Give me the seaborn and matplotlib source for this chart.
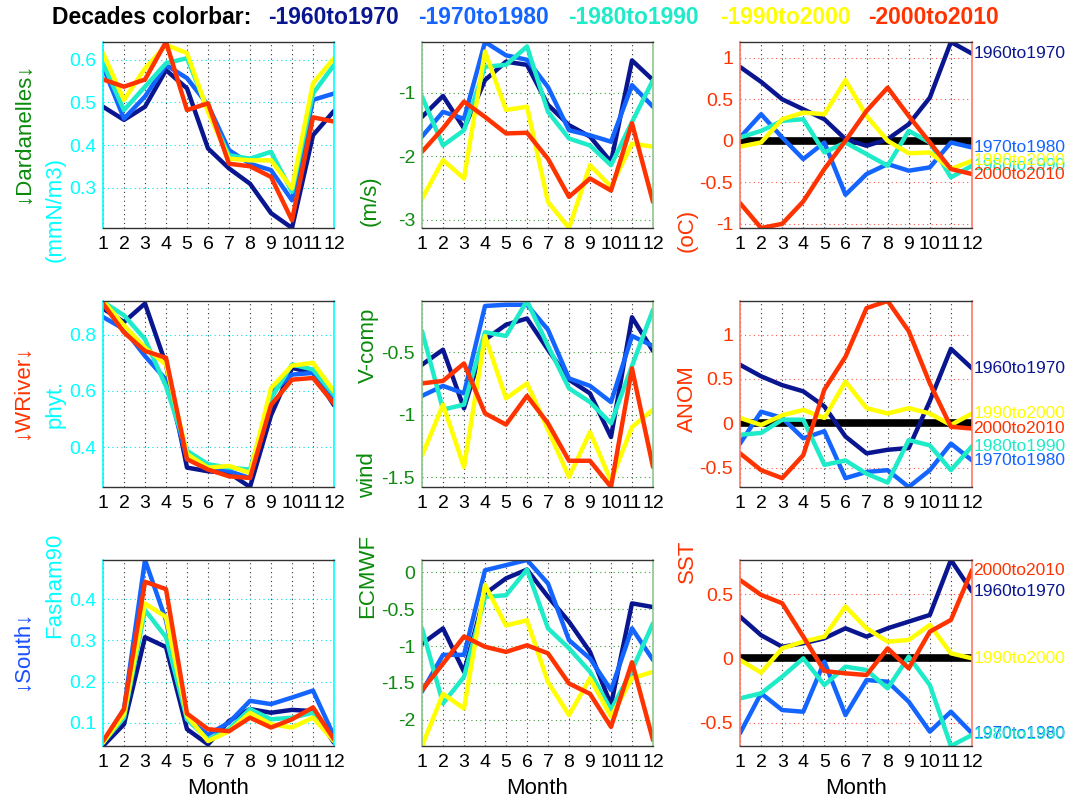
import numpy as np
import pandas as pd
import matplotlib
matplotlib.use("Agg")
import matplotlib.pyplot as plt
import seaborn as sns
from matplotlib.ticker import FuncFormatter

# ---------------- data ----------------
months = list(range(1, 13))
decades = ["1960to1970", "1970to1980", "1980to1990", "1990to2000", "2000to2010"]
decade_colors = ["#0A1690", "#1464FF", "#1EEBC8", "#FFFF00", "#FF3300"]

# Row 1: Dardanelles
dard_phyt = [
    [0.490, 0.459, 0.490, 0.576, 0.533, 0.392, 0.345, 0.309, 0.240, 0.205, 0.423, 0.480],
    [0.584, 0.462, 0.514, 0.588, 0.557, 0.494, 0.388, 0.356, 0.341, 0.270, 0.506, 0.521],
    [0.592, 0.482, 0.537, 0.592, 0.604, 0.482, 0.376, 0.368, 0.384, 0.290, 0.521, 0.588],
    [0.616, 0.506, 0.580, 0.635, 0.616, 0.478, 0.368, 0.364, 0.364, 0.298, 0.545, 0.604],
    [0.554, 0.537, 0.554, 0.642, 0.482, 0.498, 0.356, 0.350, 0.325, 0.223, 0.465, 0.455],
]
dard_wind = [
    [-1.38, -1.05, -1.56, -0.80, -0.51, -0.56, -1.19, -1.51, -1.69, -2.09, -0.49, -0.80],
    [-1.69, -1.30, -1.41, -0.20, -0.41, -0.48, -0.91, -1.59, -1.67, -1.77, -0.88, -1.22],
    [-1.06, -1.83, -1.59, -0.59, -0.56, -0.27, -1.30, -1.72, -1.83, -2.14, -1.46, -0.80],
    [-2.67, -2.06, -2.35, -0.35, -1.27, -1.22, -2.72, -3.13, -2.14, -2.48, -1.80, -1.85],
    [-1.93, -1.56, -1.14, -1.38, -1.64, -1.63, -2.04, -2.64, -2.35, -2.54, -1.48, -2.72],
]
dard_sst = [
    [0.89, 0.71, 0.50, 0.38, 0.26, 0.02, -0.06, 0.02, 0.20, 0.52, 1.19, 1.05],
    [0.04, 0.32, 0.04, -0.22, -0.02, -0.65, -0.40, -0.28, -0.36, -0.32, -0.02, -0.08],
    [0.04, 0.12, 0.24, 0.26, -0.14, -0.02, -0.16, -0.30, 0.12, -0.02, -0.44, -0.30],
    [-0.07, -0.02, 0.26, 0.34, 0.32, 0.73, 0.30, 0.00, -0.15, -0.14, -0.34, -0.24],
    [-0.75, -1.05, -1.00, -0.73, -0.34, 0.00, 0.36, 0.64, 0.30, -0.02, -0.34, -0.40],
]

# Row 2: WRiver
wriver_phyt = [
    [0.893, 0.845, 0.911, 0.694, 0.327, 0.314, 0.308, 0.258, 0.513, 0.682, 0.664, 0.549],
    [0.863, 0.820, 0.724, 0.640, 0.357, 0.333, 0.314, 0.290, 0.592, 0.658, 0.664, 0.561],
    [0.917, 0.869, 0.784, 0.616, 0.387, 0.339, 0.327, 0.320, 0.573, 0.694, 0.676, 0.586],
    [0.920, 0.833, 0.754, 0.694, 0.375, 0.327, 0.333, 0.308, 0.610, 0.690, 0.700, 0.598],
    [0.911, 0.808, 0.742, 0.718, 0.357, 0.320, 0.296, 0.290, 0.550, 0.640, 0.646, 0.555],
]
wriver_wind = [
    [-0.60, -0.48, -0.95, -0.40, -0.28, -0.23, -0.48, -0.72, -0.83, -1.18, -0.22, -0.49],
    [-0.85, -0.77, -0.83, -0.13, -0.12, -0.12, -0.32, -0.71, -0.77, -0.90, -0.37, -0.45],
    [-0.33, -0.96, -0.92, -0.34, -0.37, -0.09, -0.45, -0.79, -0.90, -1.07, -0.61, -0.16],
    [-1.33, -0.92, -1.42, -0.37, -0.87, -0.75, -1.12, -1.50, -1.14, -1.53, -1.10, -0.96],
    [-0.75, -0.73, -0.59, -0.99, -1.08, -0.85, -1.07, -1.37, -1.37, -1.58, -0.63, -1.42],
]
wriver_sst = [
    [0.66, 0.53, 0.43, 0.36, 0.19, -0.15, -0.34, -0.30, -0.28, 0.25, 0.84, 0.62],
    [-0.23, 0.13, 0.06, -0.17, -0.09, -0.62, -0.55, -0.53, -0.72, -0.53, -0.23, -0.42],
    [-0.13, -0.11, 0.04, 0.04, -0.47, -0.42, -0.57, -0.67, -0.19, -0.25, -0.53, -0.26],
    [0.06, -0.02, 0.09, 0.15, 0.06, 0.47, 0.17, 0.11, 0.17, 0.11, -0.02, 0.11],
    [-0.34, -0.53, -0.62, -0.36, 0.38, 0.75, 1.30, 1.38, 1.04, 0.45, -0.04, -0.06],
]

# Row 3: South
south_phyt = [
    [0.043, 0.096, 0.308, 0.284, 0.084, 0.047, 0.104, 0.133, 0.124, 0.131, 0.128, 0.051],
    [0.051, 0.133, 0.496, 0.349, 0.108, 0.071, 0.100, 0.153, 0.145, 0.161, 0.178, 0.067],
    [0.051, 0.112, 0.374, 0.308, 0.108, 0.059, 0.084, 0.133, 0.108, 0.112, 0.124, 0.055],
    [0.051, 0.120, 0.390, 0.357, 0.116, 0.055, 0.079, 0.124, 0.096, 0.088, 0.112, 0.055],
    [0.055, 0.133, 0.443, 0.425, 0.122, 0.084, 0.079, 0.112, 0.088, 0.108, 0.137, 0.059],
]
south_wind = [
    [-0.97, -0.76, -1.35, -0.29, -0.08, 0.04, -0.33, -0.67, -1.08, -1.80, -0.42, -0.47],
    [-1.62, -1.12, -1.12, 0.03, 0.10, 0.17, -0.15, -0.92, -1.17, -1.60, -0.76, -1.19],
    [-0.76, -1.78, -1.42, -0.33, -0.31, 0.04, -0.76, -1.03, -1.35, -1.87, -1.33, -0.69],
    [-2.36, -1.65, -1.85, -0.17, -0.72, -0.65, -1.49, -1.94, -1.44, -1.96, -1.44, -1.35],
    [-1.60, -1.24, -0.87, -1.01, -1.08, -0.99, -1.10, -1.51, -1.65, -2.10, -1.22, -2.28],
]
south_sst = [
    [0.325, 0.180, 0.090, 0.117, 0.156, 0.234, 0.169, 0.234, 0.286, 0.338, 0.766, 0.520],
    [-0.584, -0.273, -0.403, -0.416, -0.026, -0.442, -0.169, -0.182, -0.338, -0.571, -0.416, -0.584],
    [-0.312, -0.273, -0.143, 0.000, -0.208, -0.065, -0.091, -0.234, 0.013, -0.208, -0.683, -0.597],
    [-0.013, -0.112, 0.078, 0.130, 0.169, 0.403, 0.234, 0.130, 0.143, 0.260, 0.039, 0.000],
    [0.610, 0.494, 0.429, 0.169, -0.099, -0.117, -0.130, 0.078, -0.078, 0.208, 0.299, 0.688],
]

panels = [
    [dard_phyt, dard_wind, dard_sst],
    [wriver_phyt, wriver_wind, wriver_sst],
    [south_phyt, south_wind, south_sst],
]
yticks = [
    [[0.3, 0.4, 0.5, 0.6], [-3, -2, -1], [-1, -0.5, 0, 0.5, 1]],
    [[0.4, 0.6, 0.8], [-1.5, -1, -0.5], [-0.5, 0, 0.5, 1]],
    [[0.1, 0.2, 0.3, 0.4], [-2, -1.5, -1, -0.5, 0], [-0.5, 0, 0.5]],
]

title_label = "Decades colorbar:"
title_decades = ["-1960to1970", "-1970to1980", "-1980to1990", "-1990to2000", "-2000to2010"]

# ---------------- style ----------------
sns.set_theme(style="white")
plt.rcParams["font.family"] = ["Liberation Sans", "DejaVu Sans"]
plt.rcParams["axes.unicode_minus"] = False

W, H = 1069, 802
fig = plt.figure(figsize=(W / 100, H / 100), dpi=100)

palette = dict(zip(decades, decade_colors))
col_left = [103, 422, 740]
col_w = [231, 231, 232]
row_top = [42, 301, 560]
ax_h = 186

spine_colors = ["#00FFFF", "#8CC88C", "#FF7A66"]
tick_colors = ["#00FFFF", "#108A10", "#FF3300"]
hgrid_colors = ["#00E5E5", "#3C9A3C", "#FF5A4A"]

fmt = FuncFormatter(lambda v, p: "%g" % round(v, 6))

for r in range(3):
    for c in range(3):
        ax = fig.add_axes([col_left[c] / W, 1 - (row_top[r] + ax_h) / H,
                           col_w[c] / W, ax_h / H])
        vals = panels[r][c]
        rows = []
        for d, series in zip(decades, vals):
            for m, v in zip(months, series):
                rows.append({"Month": m, "Value": v, "Decade": d})
        df = pd.DataFrame(rows)
        if c == 2:
            ax.axhline(0, color="black", lw=5.5, zorder=1)
        sns.lineplot(data=df, x="Month", y="Value", hue="Decade",
                     hue_order=decades, palette=palette, linewidth=3.2,
                     legend=False, ax=ax, sort=False, estimator=None, zorder=2)
        ax.set_xlim(1, 12)
        lo = min(min(s) for s in vals)
        hi = max(max(s) for s in vals)
        ax.set_ylim(lo, hi)
        ax.set_xticks(months)
        ax.set_yticks(yticks[r][c])
        ax.yaxis.set_major_formatter(fmt)
        ax.set_xlabel("")
        ax.set_ylabel("")
        ax.tick_params(axis="x", labelsize=14, colors="black", length=0, pad=6)
        ax.tick_params(axis="y", labelsize=14, length=0, pad=5,
                       labelcolor=tick_colors[c])
        ax.set_axisbelow(True)
        ax.xaxis.grid(True, color="#333333", linestyle=(0, (1, 3)), lw=0.8)
        ax.yaxis.grid(True, color=hgrid_colors[c], linestyle=(0, (1, 3)), lw=0.8)
        for side in ["left", "right"]:
            ax.spines[side].set_color(spine_colors[c])
            ax.spines[side].set_linewidth(1.2)
            ax.spines[side].set_visible(True)
        for side in ["top", "bottom"]:
            ax.spines[side].set_color("#333333")
            ax.spines[side].set_linewidth(1.0)
            ax.spines[side].set_visible(True)
        if c == 2:
            for d, col, series in zip(decades, decade_colors, vals):
                ax.annotate(d, xy=(12, series[-1]), xytext=(1, 0),
                            textcoords="offset points", ha="left", va="center",
                            color=col, fontsize=12.5, annotation_clip=False)
        if r == 2:
            fig.text((col_left[c] + col_w[c] / 2) / W, 1 - 788 / H, "Month",
                     ha="center", va="center", fontsize=16, color="black")

# ---------------- side labels ----------------
side_labels = [
    ("\u2193Dardanelles\u2193", 24, 133, "#0A8A0A"),
    ("(mmN/m3)", 55, 210, "#00FFFF"),
    ("\u2193WRiver\u2193", 23, 392, "#FF3300"),
    ("phyt.", 55, 404, "#00FFFF"),
    ("\u2193South\u2193", 23, 651, "#1A50FF"),
    ("Fasham90", 55, 585, "#00FFFF"),
    ("(m/s)", 370, 201, "#0A8A0A"),
    ("V-comp", 368, 345, "#0A8A0A"),
    ("wind", 368, 475, "#0A8A0A"),
    ("ECMWF", 368, 576, "#0A8A0A"),
    ("(oC)", 687, 230, "#FF3300"),
    ("ANOM", 687, 399, "#FF3300"),
    ("SST", 687, 561, "#FF3300"),
]
for txt, x, y, col in side_labels:
    fig.text(x / W, 1 - y / H, txt, rotation=90, ha="center", va="center",
             fontsize=16, color=col)

# ---------------- title row ----------------
fig.text(52 / W, 1 - 18 / H, title_label, ha="left", va="center",
         fontsize=16.5, fontweight="bold", color="black")
title_x = [268, 418, 568, 720, 868]
for x, t, col in zip(title_x, title_decades, decade_colors):
    fig.text(x / W, 1 - 18 / H, t, ha="left", va="center",
             fontsize=16.5, fontweight="bold", color=col)

fig.savefig("out.png", dpi=100)
